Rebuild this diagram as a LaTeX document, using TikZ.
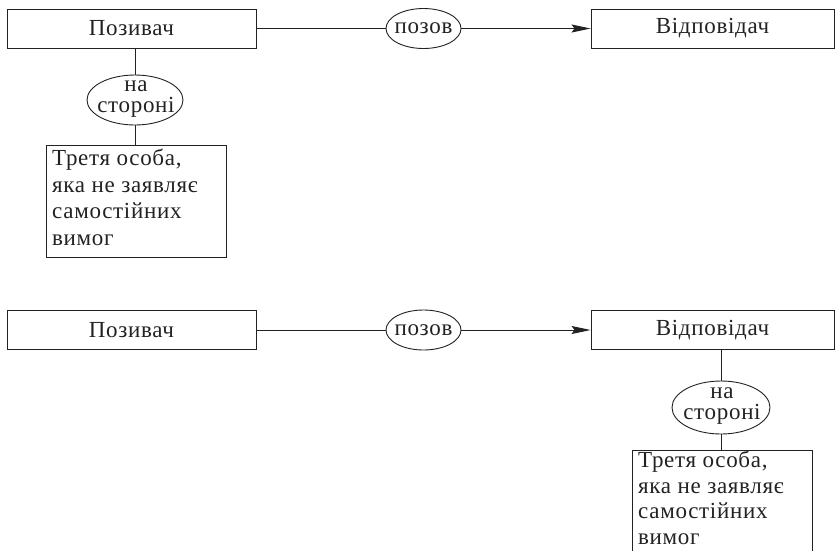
\documentclass[tikz,border=0pt]{standalone}
\usepackage{fontspec}
\setmainfont{Liberation Serif}
\newfontfamily\diagfont[LetterSpace=3]{Liberation Serif}
\usetikzlibrary{arrows.meta,shapes.geometric}
\definecolor{ink}{HTML}{222222}
\tikzset{
  every node/.style={text=ink, font=\diagfont\fontsize{23}{26.5}\selectfont},
  rolebox/.style={draw=ink, line width=0.9pt, rectangle, inner sep=0pt, minimum height=39pt},
  tagell/.style={draw=ink, line width=0.9pt, ellipse, inner sep=0pt},
  tagtext/.style={align=center, inner sep=0pt, font=\diagfont\fontsize{23}{21}\selectfont},
  thirdbox/.style={draw=ink, line width=0.9pt, rectangle, minimum width=180pt, minimum height=112pt, inner sep=0pt},
  thirdtext/.style={align=left, anchor=north west, inner sep=0pt},
  link/.style={draw=ink, line width=0.9pt},
  arr/.style={link, -{Stealth[length=19pt,width=8pt,inset=3pt]}}
}
\begin{document}
\begin{tikzpicture}[x=1pt,y=-1pt]
\useasboundingbox (0,0) rectangle (835,550);
\fill[white] (0,0) rectangle (835,550);
\begin{scope}
\clip (0,0) rectangle (835,550);
% ---------- top scheme ----------
\node[rolebox, minimum width=249pt] (p1) at (131.5,28.5) {Позивач};
\node[tagell, minimum width=75pt, minimum height=40pt] (s1) at (423.5,28.5) {};
\node[tagtext] (s1t) at (s1) {позов};
\node[rolebox, minimum width=243pt] (d1) at (712.5,28.5) {Відповідач};
\node[tagell, minimum width=96pt, minimum height=50pt] (n1) at (135,100) {};
\node[tagtext] (n1t) at (136,99) {на\\стороні};
\node[thirdbox] (t1) at (136,201) {};
\node[thirdtext] (tt1) at (52,149) {Третя особа,\\яка не заявляє\\самостійних\\вимог};
\draw[link] (p1) -- (s1);
\draw[arr] (s1) -- (d1);
\draw[link] (n1.north) -- (n1.north |- p1.south);
\draw[link] (n1.south) -- (n1.south |- t1.north);
% ---------- bottom scheme ----------
\node[rolebox, minimum width=249pt] (p2) at (131.5,330) {Позивач};
\node[tagell, minimum width=75pt, minimum height=40pt] (s2) at (423.5,330) {};
\node[tagtext] (s2t) at (s2) {позов};
\node[rolebox, minimum width=243pt] (d2) at (712.5,330) {Відповідач};
\node[tagell, minimum width=98pt, minimum height=53pt] (n2) at (721,407.5) {};
\node[tagtext] (n2t) at (722,406.5) {на\\стороні};
\node[thirdbox] (t2) at (722,506) {};
\node[thirdtext, font=\diagfont\fontsize{23}{25.5}\selectfont] (tt2) at (638,451) {Третя особа,\\яка не заявляє\\самостійних\\вимог};
\draw[link] (p2) -- (s2);
\draw[arr] (s2) -- (d2);
\draw[link] (n2.north) -- (n2.north |- d2.south);
\draw[link] (n2.south) -- (n2.south |- t2.north);
\end{scope}
\end{tikzpicture}
\end{document}
